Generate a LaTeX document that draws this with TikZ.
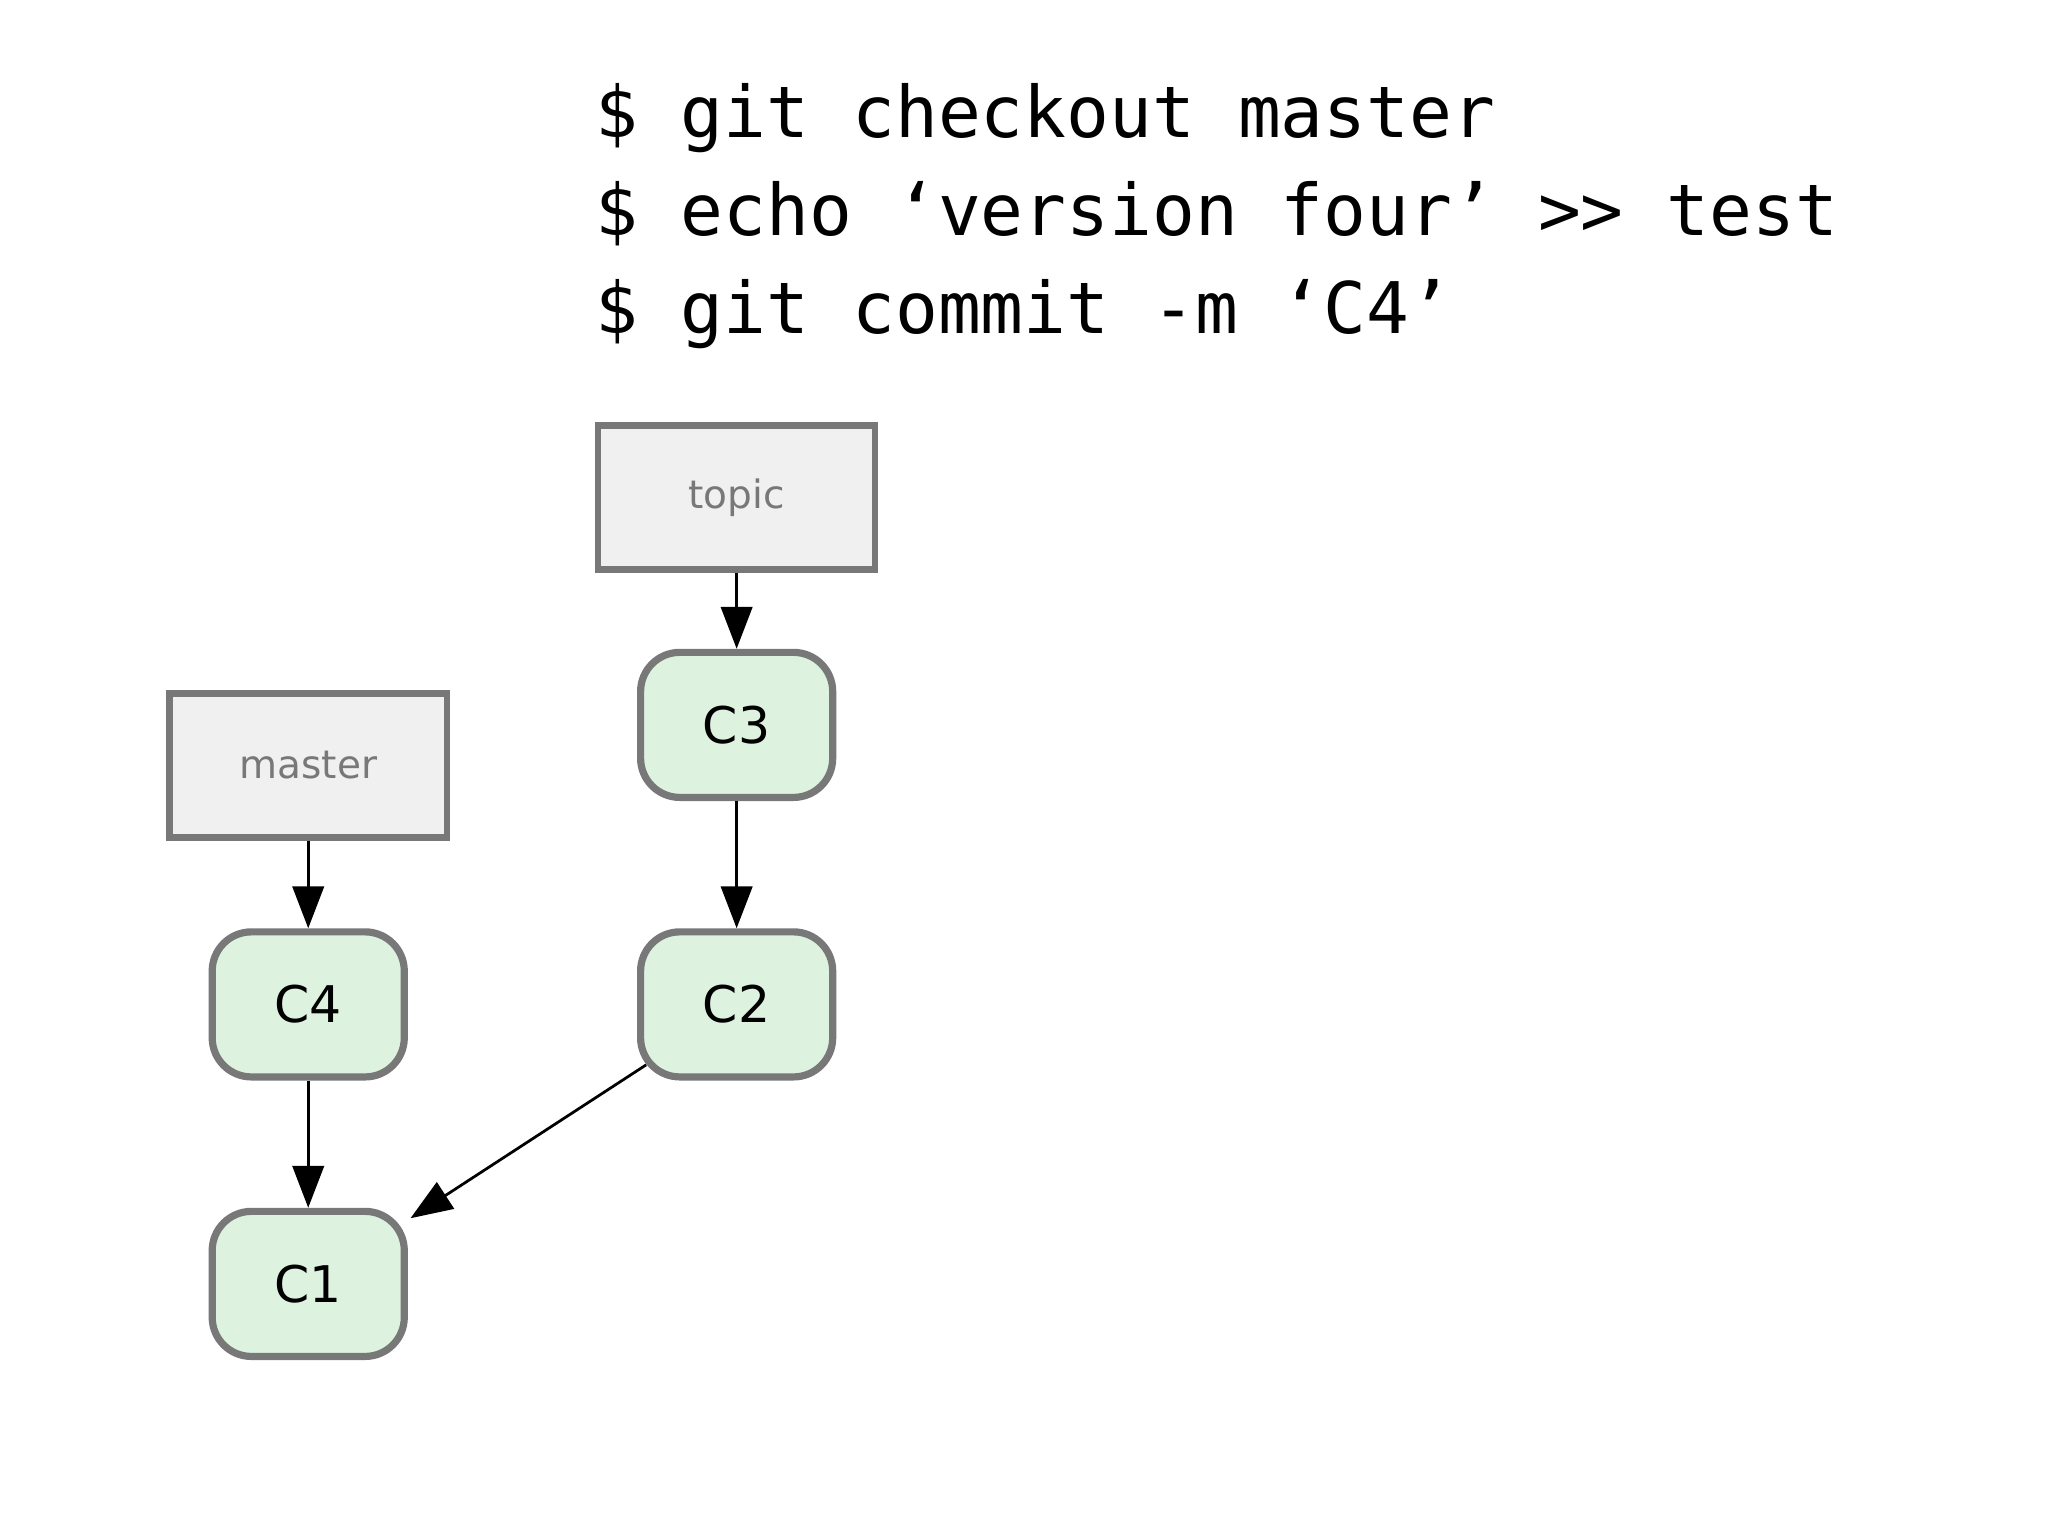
\documentclass[tikz,border=0pt]{standalone}
\usepackage{fontspec}
\setmainfont{DejaVu Sans}
\newfontfamily\cmdfont{DejaVu Sans Mono}
\usetikzlibrary{arrows.meta}
\definecolor{edgeGray}{RGB}{120,120,120}
\definecolor{branchFill}{RGB}{240,240,240}
\definecolor{commitFill}{RGB}{221,243,223}
\begin{document}
\begin{tikzpicture}[x=0.01cm,y=-0.01cm,
  branch/.style={draw=edgeGray,fill=branchFill,line width=0.5mm,minimum width=2.12cm,minimum height=1.1cm,inner sep=0pt,text=edgeGray,font=\fontsize{8.5}{10}\selectfont},
  commit/.style={draw=edgeGray,fill=commitFill,line width=0.55mm,rounded corners=0.3cm,minimum width=1.47cm,minimum height=1.11cm,inner sep=0pt,font=\fontsize{11}{13}\selectfont},
  link/.style={-{Triangle[length=3.2mm,width=2.4mm]},line width=0.6pt}]
\useasboundingbox (0,0) rectangle (1568,1176);
% commands
\node[anchor=base west,font=\cmdfont\fontsize{15.5}{18}\selectfont,inner sep=0pt] at (455,105) {\$ git checkout master};
\node[anchor=base west,font=\cmdfont\fontsize{15.5}{18}\selectfont,inner sep=0pt] at (455,180) {\$ echo ‘version four’ >> test};
\node[anchor=base west,font=\cmdfont\fontsize{15.5}{18}\selectfont,inner sep=0pt] at (455,255) {\$ git commit -m ‘C4’};
% branches
\node[branch] (topic) at (564,381) {topic};
\node[branch] (master) at (236,586) {master};
% commits
\node[commit] (c3) at (564,555) {C3};
\node[commit] (c2) at (564,769) {C2};
\node[commit] (c4) at (236,769) {C4};
\node[commit] (c1) at (236,983) {C1};
% links
\draw[link] (topic) -- (c3);
\draw[link] (c3) -- (c2);
\draw[link] (master) -- (c4);
\draw[link] (c4) -- (c1);
\draw[link] (c2.south west) ++(7,-12) coordinate (c2out) -- ([shift={(2,8)}]c1.north east);
\end{tikzpicture}
\end{document}
